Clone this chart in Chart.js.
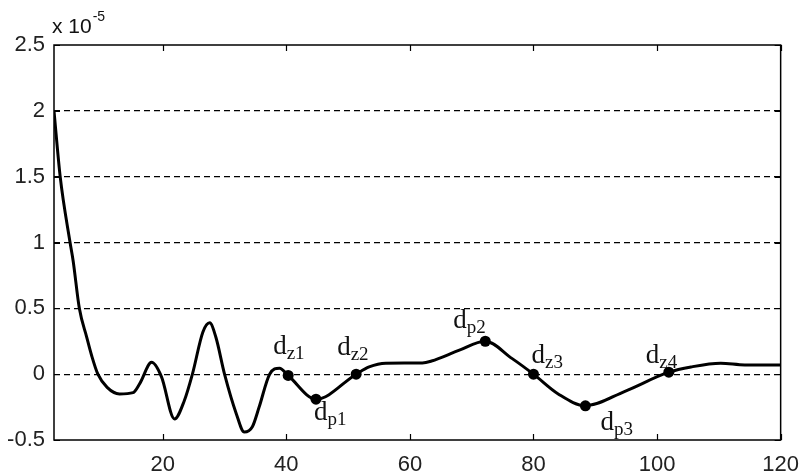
<!DOCTYPE html>
<html>
<head>
<meta charset="utf-8">
<script src="https://cdn.jsdelivr.net/npm/chart.js@4/dist/chart.umd.min.js"></script>
<style>
  html, body { margin: 0; padding: 0; background: #fff; }
  #wrap { width: 803px; height: 474px; position: relative; }
</style>
</head>
<body>
<div id="wrap"><canvas id="c" width="803" height="474"></canvas></div>
<script>
// ---- data (y in units of 1e-5) ----
const curveX = [2.4, 3.4, 5, 5.5, 6.5, 7.7, 8.5, 9.5, 11, 13, 15.2, 16.3, 18.2, 19.8, 21.9, 23.5, 24.8, 26.5, 27.6, 28.6, 30, 31.9, 33.2, 34.5, 35.6, 37.3, 38.9, 40.3, 44.8, 51.3, 53.4, 56.1, 62, 63.5, 67.9, 72.2, 76.5, 80, 84, 88.4, 94.8, 101.9, 105.5, 110.3, 114.2, 120];
const curveY = [2.0, 1.5, 1.0, 0.86, 0.5, 0.28, 0.14, 0.0, -0.10, -0.15, -0.14, -0.07, 0.09, -0.02, -0.34, -0.2, 0.0, 0.32, 0.39, 0.28, 0.0, -0.30, -0.44, -0.40, -0.25, 0.0, 0.045, -0.01, -0.19, 0.0, 0.055, 0.083, 0.085, 0.10, 0.18, 0.25, 0.12, 0.0, -0.15, -0.24, -0.13, 0.015, 0.055, 0.083, 0.07, 0.07];
const markerX = [40.3, 44.8, 51.3, 72.2, 80, 88.4, 101.9];
const markerY = [-0.01, -0.19, 0.0, 0.25, 0.0, -0.24, 0.015];
const markerMain = ['d', 'd', 'd', 'd', 'd', 'd', 'd'];
const markerSub = ['z1', 'p1', 'z2', 'p2', 'z3', 'p3', 'z4'];
const xTicks = [20, 40, 60, 80, 100, 120];
const yTicks = [-0.5, 0, 0.5, 1, 1.5, 2, 2.5];
const xRange = [2.4, 120];
const yRange = [-0.5, 2.5];
const exponentLabel = ['x 10', '-5'];

// ---- styles ----
const labelOffsets = [[-15, -21], [-2, 21], [-19, -19], [-32, -13], [-2, -11], [15, 24], [-23, -9]];
const TICK_FONT = { family: 'Liberation Sans, Arial, sans-serif', size: 22 };

const framePlugin = {
  id: 'frame',
  beforeDatasetsDraw(chart) {
    const { ctx, chartArea: a, scales: { x, y } } = chart;
    ctx.save();
    ctx.strokeStyle = '#000';
    ctx.lineWidth = 1.5;
    ctx.setLineDash([]);
    ctx.strokeRect(a.left, a.top, a.right - a.left, a.bottom - a.top);
    const L = 6;
    ctx.lineWidth = 1.2;
    ctx.beginPath();
    xTicks.forEach(v => {
      const px = Math.round(x.getPixelForValue(v)) + 0.5;
      ctx.moveTo(px, a.bottom); ctx.lineTo(px, a.bottom - L);
      ctx.moveTo(px, a.top); ctx.lineTo(px, a.top + L);
    });
    yTicks.forEach(v => {
      const py = Math.round(y.getPixelForValue(v)) + 0.5;
      ctx.moveTo(a.left, py); ctx.lineTo(a.left + L, py);
      ctx.moveTo(a.right, py); ctx.lineTo(a.right - L, py);
    });
    ctx.stroke();
    // exponent label
    ctx.fillStyle = '#111';
    ctx.textBaseline = 'alphabetic';
    ctx.textAlign = 'left';
    ctx.font = '21px "Liberation Sans", Arial, sans-serif';
    ctx.fillText(exponentLabel[0], a.left - 2, a.top - 12);
    const w = ctx.measureText(exponentLabel[0]).width;
    ctx.font = '14px "Liberation Sans", Arial, sans-serif';
    ctx.fillText(exponentLabel[1], a.left - 2 + w + 1, a.top - 24);
    ctx.restore();
  },
  afterDatasetsDraw(chart) {
    const { ctx, scales: { x, y } } = chart;
    ctx.save();
    ctx.fillStyle = '#111';
    ctx.textBaseline = 'alphabetic';
    ctx.textAlign = 'left';
    markerX.forEach((mx, i) => {
      const px = x.getPixelForValue(mx) + labelOffsets[i][0];
      const py = y.getPixelForValue(markerY[i]) + labelOffsets[i][1];
      ctx.font = '27px "Liberation Serif", "Times New Roman", serif';
      ctx.fillText(markerMain[i], px, py);
      const w = ctx.measureText(markerMain[i]).width;
      ctx.font = '19px "Liberation Serif", "Times New Roman", serif';
      ctx.fillText(markerSub[i], px + w, py + 5);
    });
    ctx.restore();
  }
};

new Chart(document.getElementById('c'), {
  type: 'line',
  data: {
    datasets: [
      {
        data: markerX.map((v, i) => ({ x: v, y: markerY[i] })),
        showLine: false,
        pointRadius: 5.5,
        pointBackgroundColor: '#000',
        pointBorderColor: '#000',
        pointBorderWidth: 0,
        order: 0
      },
      {
        data: curveX.map((v, i) => ({ x: v, y: curveY[i] })),
        borderColor: '#000',
        borderWidth: 3,
        pointRadius: 0,
        cubicInterpolationMode: 'monotone',
        fill: false,
        order: 1
      }
    ]
  },
  options: {
    responsive: false,
    animation: false,
    events: [],
    layout: { padding: { top: 45, right: 20, left: 0, bottom: 0 } },
    plugins: { legend: { display: false }, tooltip: { enabled: false } },
    scales: {
      x: {
        type: 'linear',
        min: xRange[0], max: xRange[1],
        afterBuildTicks(s) { s.ticks = xTicks.map(v => ({ value: v })); },
        afterFit(s) { s.height = 34; },
        grid: { display: false },
        border: { display: false },
        ticks: { font: TICK_FONT, color: '#222', padding: 4, maxRotation: 0, callback: v => String(v) }
      },
      y: {
        type: 'linear',
        min: yRange[0], max: yRange[1],
        afterBuildTicks(s) { s.ticks = yTicks.map(v => ({ value: v })); },
        afterFit(s) { s.width = 54; },
        grid: {
          drawTicks: false,
          lineWidth: 1.3,
          color: c => (c.tick && (c.tick.value === yRange[0] || c.tick.value === yRange[1])) ? 'rgba(0,0,0,0)' : '#000'
        },
        border: { display: false, dash: [6, 4] },
        ticks: { font: TICK_FONT, color: '#222', padding: 9, callback: v => String(v) }
      }
    }
  },
  plugins: [framePlugin]
});
</script>
</body>
</html>
